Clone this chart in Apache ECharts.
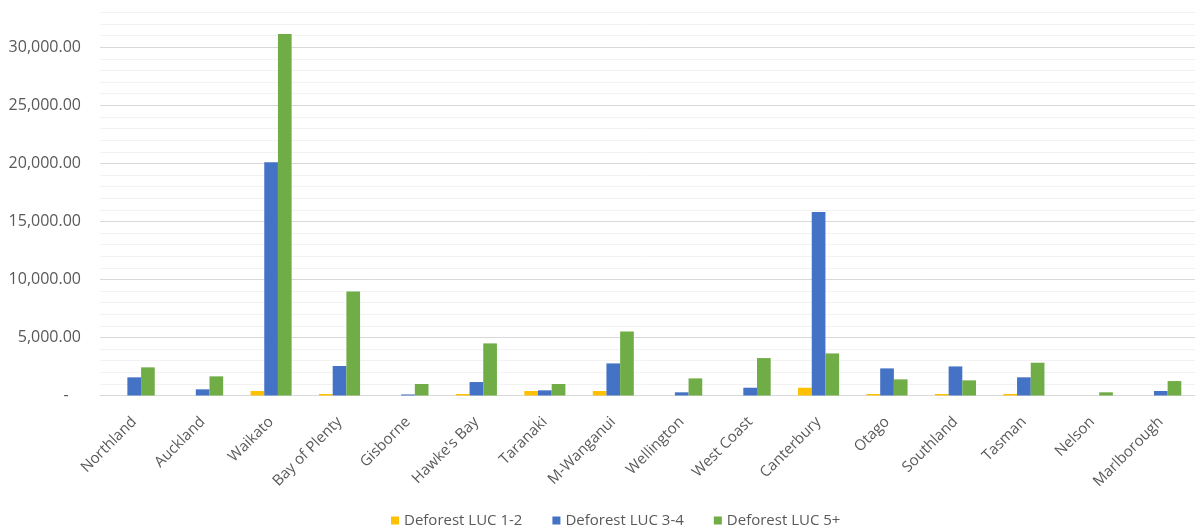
<!DOCTYPE html>
<html>
<head>
<meta charset="utf-8">
<script src="https://cdn.jsdelivr.net/npm/echarts@6/dist/echarts.min.js"></script>
<style>
html,body{margin:0;padding:0;background:#fff;}
#c{width:1195px;height:529px;}
</style>
</head>
<body>
<div id="c"></div>
<script>
const categories = ["Northland","Auckland","Waikato","Bay of Plenty","Gisborne","Hawke's Bay","Taranaki","M-Wanganui","Wellington","West Coast","Canterbury","Otago","Southland","Tasman","Nelson","Marlborough"];
const seriesNames = ["Deforest LUC 1-2","Deforest LUC 3-4","Deforest LUC 5+"];
const luc12 = [0,0,390,130,0,130,390,390,0,0,670,130,130,130,0,0];
const luc34 = [1565,530,20100,2540,90,1160,445,2765,275,670,15800,2335,2505,1565,0,390];
const luc5 = [2425,1650,31150,8970,990,4490,990,5520,1475,3225,3625,1390,1305,2825,275,1245];
const yMax = 33000;
const yMinorStep = 1000;
const yMajorStep = 5000;

const colors = ['#FFC000','#4472C4','#70AD47'];
const font = 'Open Sans';
const textColor = '#595959';

const chart = echarts.init(document.getElementById('c'));
const lineColors = [];
for (let i = 0; i < yMajorStep / yMinorStep; i++) lineColors.push(i === 0 ? '#D9D9D9' : '#F2F2F2');

function fmt(v) {
  if (v % yMajorStep !== 0) return '';
  if (v === 0) return '-   ';
  return v.toLocaleString('en-US', {minimumFractionDigits: 2, maximumFractionDigits: 2});
}

chart.setOption({
  animation: false,
  backgroundColor: '#fff',
  color: colors,
  grid: {left: 100, right: -10, top: 12.5, bottom: 133.5, containLabel: false, show: false, borderWidth: 0},
  legend: {
    top: 508,
    left: 386,
    icon: 'rect',
    itemWidth: 8,
    itemHeight: 8,
    itemGap: 30,
    textStyle: {fontFamily: font, fontSize: 15, color: textColor},
    data: seriesNames
  },
  xAxis: {
    type: 'category',
    data: categories,
    axisLine: {show: true, lineStyle: {color: '#D9D9D9', width: 1}},
    axisTick: {show: false},
    splitLine: {show: false},
    splitArea: {show: false},
    axisLabel: {rotate: 45, interval: 0, margin: 24, fontFamily: font, fontSize: 15, color: textColor}
  },
  yAxis: {
    type: 'value',
    min: 0,
    max: yMax,
    interval: yMinorStep,
    axisLine: {show: false},
    axisTick: {show: false},
    axisLabel: {formatter: fmt, margin: 19, fontFamily: font, fontSize: 16, color: textColor},
    splitLine: {show: true, lineStyle: {color: lineColors, width: 1}},
    splitArea: {show: false},
    minorSplitLine: {show: false}
  },
  series: [
    {name: seriesNames[0], type: 'bar', data: luc12, barGap: '0%', barCategoryGap: '40%'},
    {name: seriesNames[1], type: 'bar', data: luc34, barGap: '0%', barCategoryGap: '40%'},
    {name: seriesNames[2], type: 'bar', data: luc5, barGap: '0%', barCategoryGap: '40%'}
  ]
});
</script>
</body>
</html>
